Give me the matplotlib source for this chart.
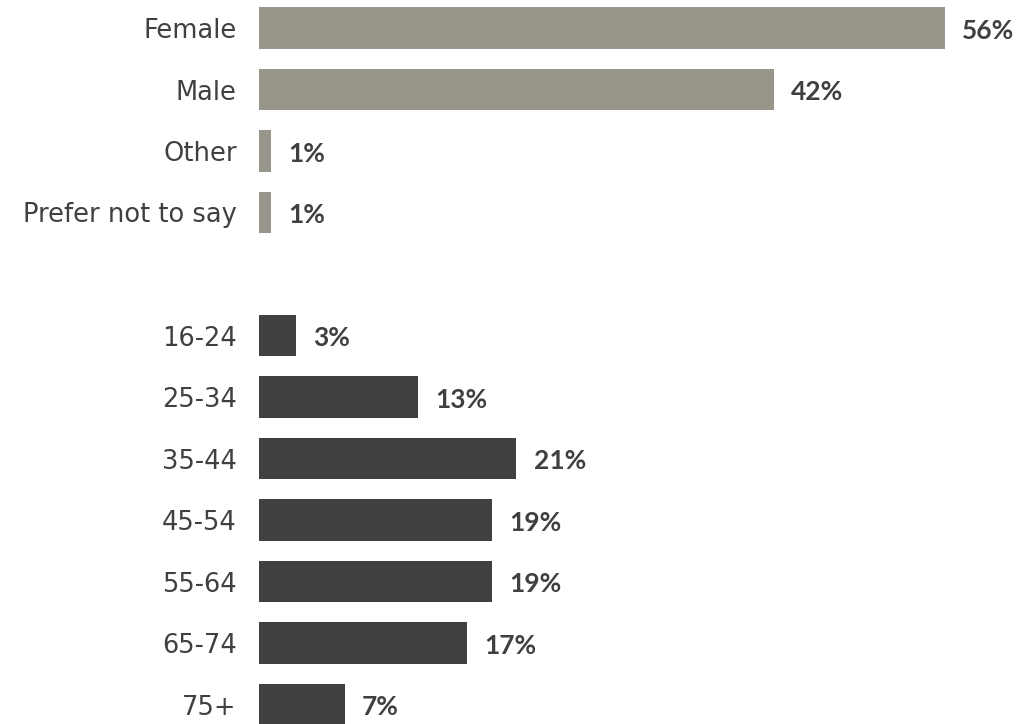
import matplotlib.pyplot as plt

gender_labels = ['Female', 'Male', 'Other', 'Prefer not to say']
gender_values = [56, 42, 1, 1]
age_labels = ['16-24', '25-34', '35-44', '45-54', '55-64', '65-74', '75+']
age_values = [3, 13, 21, 19, 19, 17, 7]

GREY = '#98958a'
DARK = '#404040'
TEXT = '#404040'

fig = plt.figure(figsize=(10.17, 7.24), dpi=100)
ax = fig.add_axes([259 / 1017, 0, 1 - 259 / 1017, 1])

# gender rows at 0..3, blank slot at 4, age rows from 5
g_pos = list(range(len(gender_labels)))
a_pos = [len(gender_labels) + 1 + i for i in range(len(age_labels))]

ax.barh(g_pos, gender_values, height=0.68, color=GREY)
ax.barh(a_pos, age_values, height=0.68, color=DARK)

for pos, val in zip(g_pos + a_pos, gender_values + age_values):
    ax.annotate(f'{val}%', (val, pos), xytext=(12.5, -2), textcoords='offset points',
                ha='left', va='center', fontsize=19, fontweight='bold',
                family='Lato', color=TEXT)

ax.set_yticks(g_pos + a_pos)
ax.set_yticklabels(gender_labels + age_labels, fontsize=18.5, family='DejaVu Sans', color=TEXT)
ax.tick_params(axis='y', length=0, pad=16)
ax.set_xticks([])

ax.set_xlim(0, (1017 - 259) / 12.25)
ax.set_ylim((724 - 28) / 61.5, -28 / 61.5)
for s in ax.spines.values():
    s.set_visible(False)

plt.savefig('out.png', dpi=100)
plt.close()
